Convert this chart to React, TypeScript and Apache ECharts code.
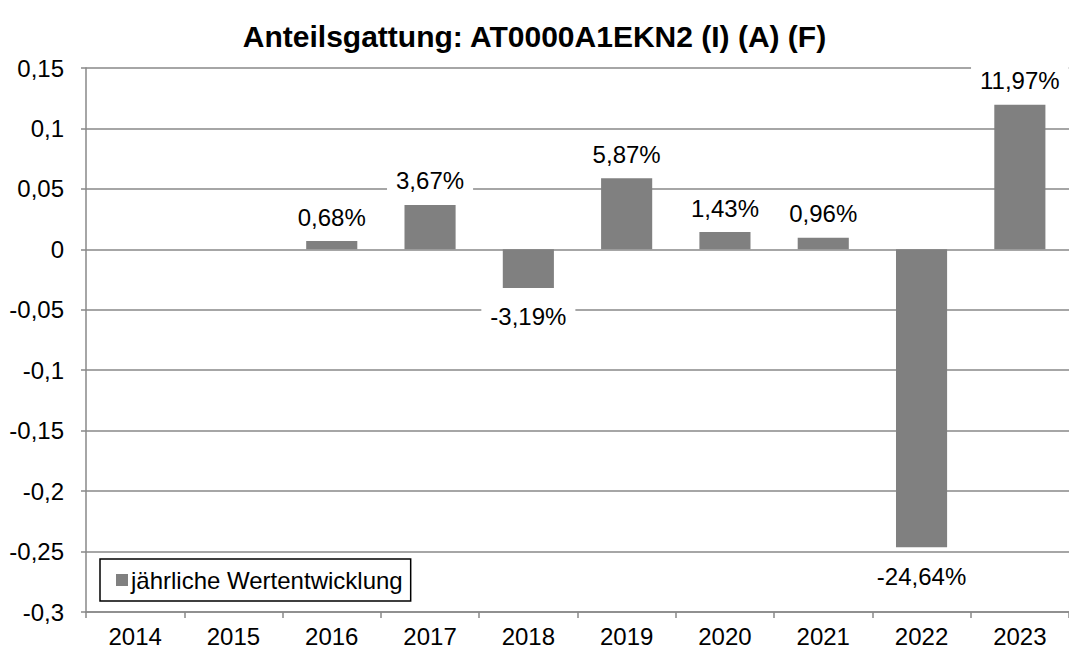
import React, { useEffect, useRef } from "react";
import * as echarts from "echarts";

const TITLE = "Anteilsgattung: AT0000A1EKN2 (I) (A) (F)";
const SERIES_NAME = "jährliche Wertentwicklung";
const years = ["2014", "2015", "2016", "2017", "2018", "2019", "2020", "2021", "2022", "2023"];
const values: (number | null)[] = [null, null, 0.0068, 0.0367, -0.0319, 0.0587, 0.0143, 0.0096, -0.2464, 0.1197];
const yMin = -0.3;
const yMax = 0.15;
const yStep = 0.05;

const FONT = "'Liberation Sans', Arial, sans-serif";
const GRID = "#898989";

const fmtAxis = (v: number) => String(parseFloat(v.toFixed(2))).replace(".", ",");
const fmtPct = (v: number) => (v * 100).toFixed(2).replace(".", ",") + "%";

export default function App() {
  const ref = useRef<HTMLDivElement>(null);
  useEffect(() => {
    if (!ref.current) return;
    const chart = echarts.init(ref.current, undefined, { renderer: "svg" });
    const barData = values.map((v) =>
      v != null && v < 0 ? { value: v, label: { distance: 15 } } : v
    );
    chart.setOption({
      animation: false,
      backgroundColor: "#fff",
      title: {
        text: TITLE,
        left: "center",
        top: 16,
        textStyle: { fontFamily: FONT, fontSize: 30, fontWeight: "bold", color: "#000" },
      },
      grid: { left: 86, top: 68, bottom: 38, right: -7, containLabel: false },
      legend: {
        data: [SERIES_NAME],
        left: 100,
        top: 559,
        orient: "horizontal",
        icon: "rect",
        itemWidth: 12,
        itemHeight: 12,
        itemGap: 4,
        padding: [9, 8, 9, 16],
        backgroundColor: "#fff",
        borderColor: "#000",
        borderWidth: 1.5,
        textStyle: { fontFamily: FONT, fontSize: 24, color: "#000", padding: [0, 0, 0, -2] },
      },
      xAxis: [
        {
          type: "category",
          data: years,
          position: "bottom",
          axisLine: { show: false },
          axisTick: { show: false },
          axisLabel: { fontFamily: FONT, fontSize: 24, color: "#000", margin: 12 },
          splitLine: { show: false },
        },
        {
          type: "category",
          data: years,
          position: "bottom",
          axisLine: { show: true, onZero: true, lineStyle: { color: GRID, width: 1.5 } },
          axisTick: { show: true, length: 6, lineStyle: { color: GRID, width: 1.5 } },
          axisLabel: { show: false },
          splitLine: { show: false },
        },
      ],
      yAxis: {
        type: "value",
        min: yMin,
        max: yMax,
        interval: yStep,
        axisLine: { show: true, lineStyle: { color: GRID, width: 1.5 } },
        axisTick: { show: true, length: 5, lineStyle: { color: GRID, width: 1.5 } },
        axisLabel: { fontFamily: FONT, fontSize: 24, color: "#000", margin: 22, formatter: fmtAxis },
        splitLine: { show: true, lineStyle: { color: GRID, width: 1.5 } },
      },
      series: [
        {
          name: SERIES_NAME,
          type: "bar",
          xAxisIndex: 0,
          data: barData,
          barWidth: "52%",
          itemStyle: { color: "#808080" },
          label: {
            show: true,
            position: "outside",
            formatter: (p: any) => (p.value == null ? "" : fmtPct(p.value)),
            fontFamily: FONT,
            fontSize: 24,
            color: "#000",
            backgroundColor: "#fff",
            padding: [2, 9],
            distance: 10,
          },
        },
      ],
    });
    return () => chart.dispose();
  }, []);
  return <div ref={ref} style={{ position: "fixed", left: 0, top: 0, width: 1069, height: 650 }} />;
}
